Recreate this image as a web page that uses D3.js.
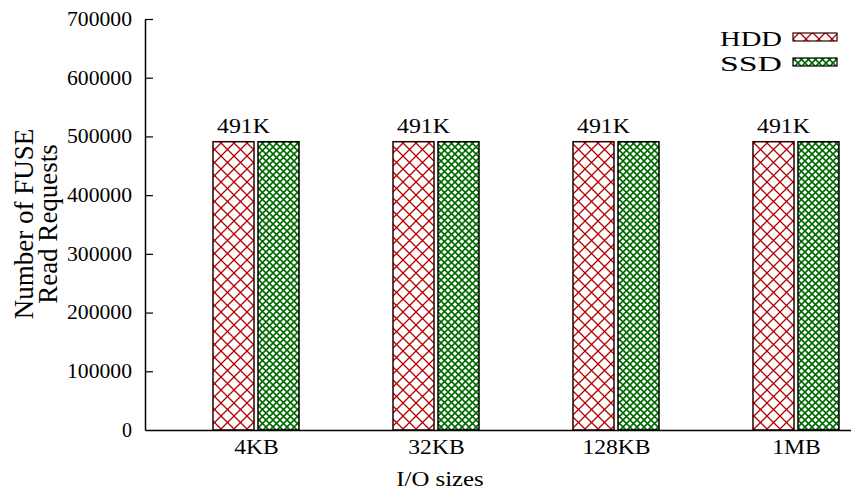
<!DOCTYPE html>
<html lang="en">
<head>
    <meta charset="UTF-8">
    <title>FUSE read requests</title>
    <script src="https://cdn.jsdelivr.net/npm/d3@7/dist/d3.min.js"></script>
    <style>
        body, html {
            margin: 0;
            padding: 0;
            background: white;
            overflow: hidden;
        }
        svg {
            display: block;
        }
        svg text {
            font-family: "Liberation Serif", "Times New Roman", serif;
            fill: #000;
        }
    </style>
</head>
<body>
    <svg id="mainsvg"></svg>
    <script>
        // data
        const sizes = ["4KB", "32KB", "128KB", "1MB"];
        const hddValues = [491000, 491000, 491000, 491000];
        const ssdValues = [491000, 491000, 491000, 491000];
        const barLabels = ["491K", "491K", "491K", "491K"];
        const yTicks = [0, 100000, 200000, 300000, 400000, 500000, 600000, 700000];
        const seriesNames = ["HDD", "SSD"];

        const width = 851;
        const height = 493;
        const svg = d3.select("#mainsvg")
            .attr("width", width)
            .attr("height", height);

        const plotLeft = 145, plotBottom = 430, plotTop = 19;

        // the original text is a bit wider than Liberation Serif, stretch it
        function widen(sel, k = 1.18) {
            sel.each(function () {
                const len = this.getComputedTextLength();
                d3.select(this)
                    .attr("textLength", (len * k).toFixed(1))
                    .attr("lengthAdjust", "spacingAndGlyphs");
            });
        }

        // x: category index -> pixel
        const x = d3.scaleLinear()
            .domain([-0.6167, 3.3056])
            .range([plotLeft, width]);
        const y = d3.scaleLinear()
            .domain([0, 700000])
            .range([plotBottom, plotTop]);

        // patterns
        const defs = svg.append("defs");
        const pHdd = defs.append("pattern")
            .attr("id", "hatchHdd")
            .attr("patternUnits", "userSpaceOnUse")
            .attr("width", 13).attr("height", 13);
        pHdd.append("rect").attr("width", 13).attr("height", 13).attr("fill", "white");
        pHdd.append("path")
            .attr("d", "M0,0L13,13M13,0L0,13")
            .attr("stroke", "#b40000").attr("stroke-width", 1.3);

        const pSsd = defs.append("pattern")
            .attr("id", "hatchSsd")
            .attr("patternUnits", "userSpaceOnUse")
            .attr("width", 7).attr("height", 7);
        pSsd.append("rect").attr("width", 7).attr("height", 7).attr("fill", "white");
        pSsd.append("path")
            .attr("d", "M0,0L7,7M7,0L0,7")
            .attr("stroke", "#006a00").attr("stroke-width", 1.6);

        const fills = ["url(#hatchHdd)", "url(#hatchSsd)"];
        const strokes = ["#2a0000", "#000"];

        // bars
        const barW = 41, gap = 2;
        const bars = svg.append("g");
        [hddValues, ssdValues].forEach((vals, s) => {
            bars.append("g")
                .selectAll("rect")
                .data(vals)
                .join("rect")
                .attr("x", (d, i) => s === 0 ? x(i) - gap - barW : x(i) + gap)
                .attr("y", d => y(d))
                .attr("width", barW)
                .attr("height", d => plotBottom - y(d))
                .attr("fill", fills[s])
                .attr("stroke", strokes[s])
                .attr("stroke-width", 1.5);
        });

        // value labels
        svg.append("g")
            .selectAll("text")
            .data(barLabels)
            .join("text")
            .attr("x", (d, i) => x(i) - 39)
            .attr("y", (d, i) => y(hddValues[i]) - 9)
            .attr("font-size", 22)
            .attr("textLength", 53)
            .attr("lengthAdjust", "spacingAndGlyphs")
            .text(d => d);

        // y axis
        const yAxis = svg.append("g")
            .attr("transform", `translate(${plotLeft},0)`)
            .call(d3.axisLeft(y).tickValues(yTicks).tickFormat(d3.format("d")).tickSizeInner(-8).tickSizeOuter(0).tickPadding(13));
        yAxis.attr("font-family", null);
        yAxis.select(".domain").attr("stroke", "#000").attr("stroke-width", 1.5);
        yAxis.selectAll(".tick line").attr("stroke-width", 1.2);
        yAxis.selectAll("text").attr("font-size", 20)
            .attr("textLength", 65).attr("lengthAdjust", "spacingAndGlyphs")
            .filter(d => d === 0).attr("textLength", null);
        yAxis.select(".tick:first-of-type line").remove();

        // x axis
        const xAxis = svg.append("g")
            .attr("transform", `translate(0,${plotBottom})`)
            .call(d3.axisBottom(x).tickValues(d3.range(sizes.length)).tickFormat(i => sizes[i]).tickSize(0).tickPadding(10));
        xAxis.attr("font-family", null);
        xAxis.select(".domain").attr("stroke", "#000").attr("stroke-width", 1.5);
        xAxis.selectAll("text").attr("font-size", 20).call(widen);

        // axis titles
        svg.append("text")
            .attr("x", 440).attr("y", 486)
            .attr("text-anchor", "middle")
            .attr("font-size", 21)
            .text("I/O sizes")
            .call(widen);

        const yTitle = svg.append("text")
            .attr("transform", "translate(33,224) rotate(-90)")
            .attr("text-anchor", "middle")
            .attr("font-size", 27);
        yTitle.append("tspan").attr("x", 0).attr("y", 0).text("Number of FUSE");
        yTitle.append("tspan").attr("x", 0).attr("y", 24).text("Read Requests");

        // legend
        const legend = svg.append("g");
        seriesNames.forEach((name, s) => {
            const yy = 46 + s * 25;
            legend.append("text")
                .attr("x", 782).attr("y", yy)
                .attr("text-anchor", "end")
                .attr("font-size", 22)
                .attr("textLength", 62)
                .attr("lengthAdjust", "spacingAndGlyphs")
                .text(name);
            legend.append("rect")
                .attr("x", 793).attr("y", yy - 13)
                .attr("width", 44).attr("height", 8)
                .attr("fill", fills[s])
                .attr("stroke", strokes[s])
                .attr("stroke-width", 1.2);
        });
    </script>
</body>
</html>
